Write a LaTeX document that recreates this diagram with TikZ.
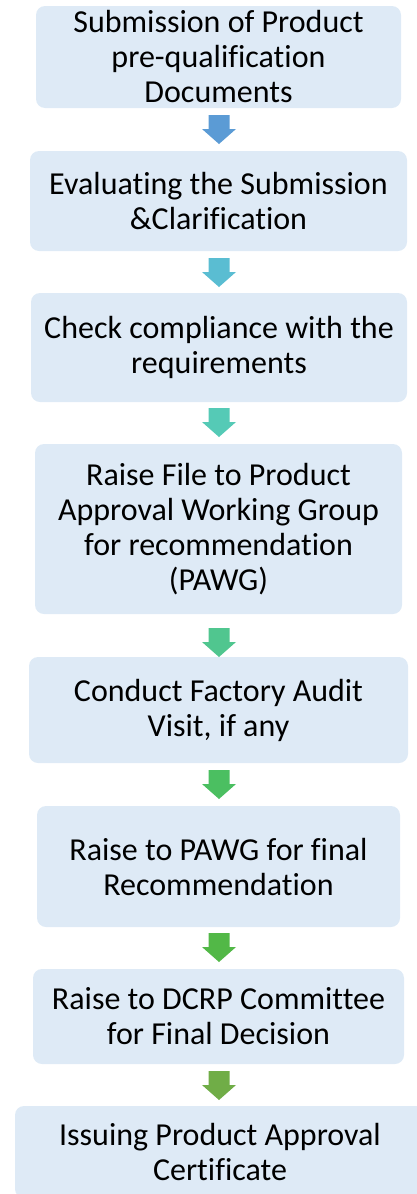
\documentclass[tikz,border=0pt]{standalone}
\usepackage{fontspec}
\setmainfont{Carlito}[Ligatures=NoCommon]
\definecolor{boxfill}{HTML}{DEEAF6}
\definecolor{ac1}{HTML}{5B9BD5}
\definecolor{ac2}{HTML}{5ABDD2}
\definecolor{ac3}{HTML}{55CAB6}
\definecolor{ac4}{HTML}{50C68F}
\definecolor{ac5}{HTML}{4BBF61}
\definecolor{ac6}{HTML}{52B847}
\definecolor{ac7}{HTML}{70AD47}
\tikzset{
  stepbox/.style={fill=boxfill, rounded corners=9pt, inner sep=0pt, align=center,
    font=\fontsize{32}{35}\selectfont, text=black},
  blockarrow/.pic={\fill[#1] (-10.5,0) -- (10.5,0) -- (10.5,-14) -- (17,-14) -- (0,-29) -- (-17,-14) -- (-10.5,-14) -- cycle;}
}
\begin{document}
\begin{tikzpicture}[x=1pt,y=1pt]
\useasboundingbox (0,0) rectangle (417,-1194);
\clip (0,0) rectangle (417,-1194);
% connectors (block arrows)
\coordinate (a1) at (219,-115);
\coordinate (a2) at (219,-258);
\coordinate (a3) at (219,-408);
\coordinate (a4) at (219,-628);
\coordinate (a5) at (219,-770);
\coordinate (a6) at (219,-933);
\coordinate (a7) at (219,-1071);
\pic at (a1) {blockarrow=ac1};
\pic at (a2) {blockarrow=ac2};
\pic at (a3) {blockarrow=ac3};
\pic at (a4) {blockarrow=ac4};
\pic at (a5) {blockarrow=ac5};
\pic at (a6) {blockarrow=ac6};
\pic at (a7) {blockarrow=ac7};
% boxes
\node[stepbox, minimum width=365pt, minimum height=102pt] (b1) at (218.5,-57) {Submission of Product\\pre-qualification\\Documents};
\node[stepbox, minimum width=377pt, minimum height=100pt] (b2) at (218.5,-201) {Evaluating the Submission\\\&Clarification};
\node[stepbox, minimum width=376pt, minimum height=109pt] (b3) at (219,-347.5) {Check compliance with the\\requirements};
\node[stepbox, minimum width=367pt, minimum height=170pt] (b4) at (218.5,-529) {Raise File to Product\\Approval Working Group\\for recommendation\\(PAWG)};
\node[stepbox, minimum width=379pt, minimum height=106pt] (b5) at (218.5,-710) {Conduct Factory Audit\\Visit, if any};
\node[stepbox, minimum width=363pt, minimum height=121pt] (b6) at (218.5,-866.5) {Raise to PAWG for final\\Recommendation};
\node[stepbox, minimum width=371pt, minimum height=95pt] (b7) at (218.5,-1016.5) {Raise to DCRP Committee\\for Final Decision};
\node[stepbox, minimum width=410pt, minimum height=92pt] (b8) at (220,-1152) {Issuing Product Approval\\Certificate};
\end{tikzpicture}
\end{document}
